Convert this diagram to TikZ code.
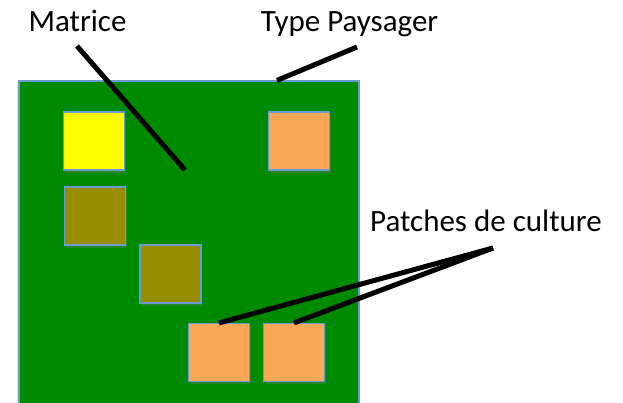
\documentclass[tikz,border=0pt]{standalone}
\usepackage{fontspec}
\setmainfont{Carlito}
\usetikzlibrary{shadows}

\definecolor{matrixgreen}{RGB}{0,138,0}
\definecolor{edgeblue}{RGB}{108,155,208}
\definecolor{patchyellow}{RGB}{255,255,0}
\definecolor{patcholive}{RGB}{150,142,0}
\definecolor{patchorange}{RGB}{249,168,88}

\begin{document}
\begin{tikzpicture}[
    x=1pt, y=-1pt,
    patch/.style={rectangle, draw=edgeblue, line width=1.2pt, minimum width=61pt,
        minimum height=58pt, inner sep=0pt,
        drop shadow={shadow xshift=1pt, shadow yshift=-2.5pt, opacity=0.3}},
    tag/.style={anchor=base, font=\fontsize{31}{37}\selectfont, inner sep=0pt},
    leader/.style={line width=5pt, draw=black}
]
    \useasboundingbox (0,0) rectangle (623,402);

    % Landscape
    \node[draw=edgeblue, line width=1.2pt, fill=matrixgreen, minimum width=340pt,
        minimum height=330pt, inner sep=0pt,
        drop shadow={shadow xshift=-2pt, shadow yshift=-1pt, opacity=0.2}] (paysage) at (189,246) {};

    % Patches
    \node[patch, fill=patchyellow] (jaune) at (94,141) {};
    \node[patch, fill=patchorange] (haut) at (299,141) {};
    \node[patch, fill=patcholive] (olive1) at (95,216) {};
    \node[patch, fill=patcholive] (olive2) at (170.5,274) {};
    \node[patch, fill=patchorange] (bas1) at (219,352.5) {};
    \node[patch, fill=patchorange] (bas2) at (294,352.5) {};

    % Labels
    \node[tag] (matrice) at (77.5,31) {Matrice};
    \node[tag] (type) at (349.5,31) {Type Paysager};
    \node[tag] (culture) at (486,231) {Patches de culture};

    % Leaders
    \coordinate (m1) at (77,46);
    \coordinate (m2) at (185,170);
    \coordinate (t1) at (357,47);
    \coordinate (c1) at (493,248);
    \draw[leader] (m1) -- (m2);
    \draw[leader] (t1) -- (paysage.north -| 277,0);
    \draw[leader] (c1) -- (bas1.north);
    \draw[leader] (c1) -- (bas2.north);
\end{tikzpicture}
\end{document}
